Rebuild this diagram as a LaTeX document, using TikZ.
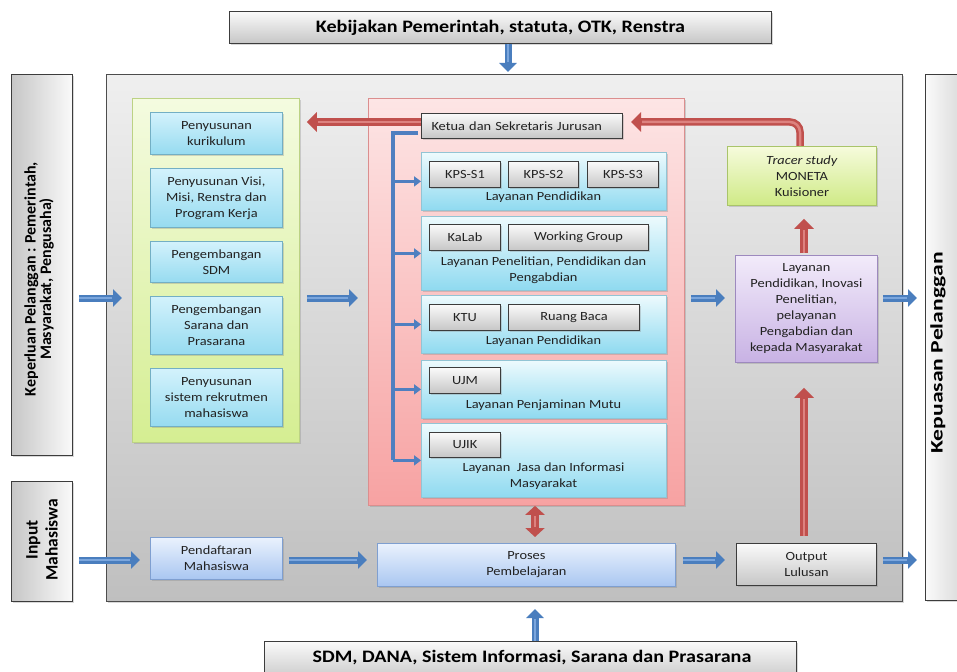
\documentclass[tikz,border=0pt]{standalone}
\usepackage{fontspec}
\setmainfont{Carlito}[FakeStretch=1.15]
\newfontfamily\sidefont{Carlito}
\newfontfamily\sidefontwide{Carlito}[FakeStretch=1.35]
\usetikzlibrary{arrows.meta,shadows,calc}
\definecolor{txt}{HTML}{222222}
\definecolor{grayT}{HTML}{FAFAFA}
\definecolor{grayB}{HTML}{C6C6C6}
\definecolor{grayD}{HTML}{3C3C3C}
\definecolor{panT}{HTML}{EFEFEF}
\definecolor{panB}{HTML}{BFBFBF}
\definecolor{panD}{HTML}{4D4D4D}
\definecolor{grnT}{HTML}{F4FBE0}
\definecolor{grnB}{HTML}{D5EE92}
\definecolor{grnD}{HTML}{BCD284}
\definecolor{cyT}{HTML}{D3F2FC}
\definecolor{cyB}{HTML}{96DBF0}
\definecolor{cyD}{HTML}{73AFC4}
\definecolor{redT}{HTML}{FDE5E5}
\definecolor{redB}{HTML}{F7A2A2}
\definecolor{redD}{HTML}{DB8E8E}
\definecolor{cy2T}{HTML}{EDFAFD}
\definecolor{cy2B}{HTML}{8FDAF0}
\definecolor{cy2D}{HTML}{92C4D4}
\definecolor{trT}{HTML}{F6FBDC}
\definecolor{trB}{HTML}{CFEA86}
\definecolor{trD}{HTML}{A9C46A}
\definecolor{puT}{HTML}{F2EBFA}
\definecolor{puB}{HTML}{C8B2E4}
\definecolor{puD}{HTML}{9D89BE}
\definecolor{lbT}{HTML}{EAF2FD}
\definecolor{lbB}{HTML}{A9C6F1}
\definecolor{lbD}{HTML}{7F9FD0}
\definecolor{bArr}{HTML}{4A7EBE}
\definecolor{bHl}{HTML}{7BA6DD}
\definecolor{bLine}{HTML}{4F7FC0}
\definecolor{rArr}{HTML}{C0504D}
\definecolor{rHl}{HTML}{DD827F}
\begin{document}
\begin{tikzpicture}[x=1pt,y=-1pt,
  shd/.style={drop shadow={shadow xshift=1.5pt,shadow yshift=-1.5pt,opacity=0.3}},
  bx/.style={draw, inner sep=0pt, anchor=north west, align=center, text=txt,
    font=\fontsize{12.5}{16}\selectfont},
  graybox/.style={bx, shd, draw=grayD, line width=1pt, top color=grayT, bottom color=grayB},
  barbox/.style={graybox, font=\fontsize{17.5}{20}\selectfont\bfseries, text=black},
  sidebox/.style={bx, shd, draw=grayD, line width=1pt, left color=grayB, right color=grayT},
  sidebox2/.style={bx, shd, draw=grayD, line width=1pt, left color=grayT, right color=grayB},
  sidetext/.style={rotate=90, align=center, text=black, inner sep=0pt,
    font=\sidefont\bfseries\fontsize{16}{15.5}\selectfont},
  panel/.style={bx, shd, draw=panD, line width=1pt, top color=panT, bottom color=panB},
  grnpanel/.style={bx, shd, draw=grnD, line width=0.8pt, top color=grnT, bottom color=grnB},
  cybox/.style={bx, shd, draw=cyD, line width=0.8pt, top color=cyT, bottom color=cyB},
  redpanel/.style={bx, shd, draw=redD, line width=0.8pt, top color=redT, bottom color=redB},
  cy2box/.style={bx, shd, draw=cy2D, line width=0.8pt, top color=cy2T, bottom color=cy2B},
  trbox/.style={bx, shd, draw=trD, line width=0.8pt, top color=trT, bottom color=trB},
  pubox/.style={bx, shd, draw=puD, line width=0.8pt, top color=puT, bottom color=puB},
  lbbox/.style={bx, shd, draw=lbD, line width=0.8pt, top color=lbT, bottom color=lbB},
  lab/.style={align=center, inner sep=0pt, text=txt, font=\fontsize{12.5}{16}\selectfont},
  barrow/.style={draw=bArr, line width=7pt, -{Triangle[width=17pt,length=9pt]},
    postaction={draw=bHl, line width=2.5pt, arrows=-, shorten >=10pt}},
  rarrow/.style={draw=rArr, line width=7.5pt, -{Triangle[width=19pt,length=10pt]},
    postaction={draw=rHl, line width=2.5pt, arrows=-, shorten >=11pt}},
  rdarrow/.style={draw=rArr, line width=7.5pt, {Triangle[width=19pt,length=9pt]}-{Triangle[width=19pt,length=9pt]},
    postaction={draw=rHl, line width=2.5pt, arrows=-, shorten >=10pt, shorten <=10pt}},
  bline/.style={draw=bLine, line width=4pt, line join=miter},
  bsmall/.style={draw=bLine, line width=3pt, -{Triangle[width=10pt,length=7pt]}}
]
\useasboundingbox (0,0) rectangle (957,671);
\clip (0,0) rectangle (957,671);
\fill[white] (0,0) rectangle (957,671);

% outer bars
\node[barbox, minimum width=542pt, minimum height=32pt] (top) at (229,11) {Kebijakan Pemerintah, statuta, OTK, Renstra};
\node[barbox, minimum width=532pt, minimum height=40pt, anchor=north west] (bot) at (264,641) {};
\node[text=black, inner sep=0pt, font=\fontsize{17.5}{20}\selectfont\bfseries] (bottxt) at (532,658) {SDM, DANA, Sistem Informasi, Sarana dan Prasarana};

\node[sidebox, minimum width=61pt, minimum height=381pt] (kep) at (11,74) {};
\node[sidetext] (keptxt) at (39,279) {Keperluan Pelanggan : Pemerintah,\\Masyarakat, Pengusaha)};
\node[sidebox, minimum width=61pt, minimum height=120pt] (inp) at (11,481) {};
\node[sidetext, font=\sidefont\bfseries\fontsize{17.5}{20}\selectfont] (inptxt) at (42,540) {Input\\Mahasiswa};
\node[sidebox2, minimum width=60pt, minimum height=526pt] (kepu) at (925,74) {};
\node[sidetext, font=\sidefontwide\bfseries\fontsize{17.5}{20}\selectfont] (keputxt) at (938,353) {Kepuasan Pelanggan};

% main panel
\node[panel, minimum width=796pt, minimum height=527pt] (main) at (106,74) {};

% green panel
\node[grnpanel, minimum width=167pt, minimum height=344pt] (green) at (132,98) {};
\node[cybox, minimum width=132pt, minimum height=42pt] (g1) at (150,112) {Penyusunan\\kurikulum};
\node[cybox, minimum width=132pt, minimum height=59pt] (g2) at (150,168) {Penyusunan Visi,\\Misi, Renstra dan\\Program Kerja};
\node[cybox, minimum width=132pt, minimum height=41pt] (g3) at (150,241) {Pengembangan\\SDM};
\node[cybox, minimum width=132pt, minimum height=58pt] (g4) at (150,296) {Pengembangan\\Sarana dan\\Prasarana};
\node[cybox, minimum width=132pt, minimum height=58pt] (g5) at (150,368) {Penyusunan\\sistem rekrutmen\\mahasiswa};

% red panel
\node[redpanel, minimum width=316pt, minimum height=407pt] (red) at (368,98) {};
\node[graybox, minimum height=25pt, text width=181pt, inner xsep=10pt, align=left] (ketua) at (421,113) {Ketua dan Sekretaris Jurusan};

\node[cy2box, minimum width=245pt, minimum height=58pt] (l1) at (421,152) {};
\node[cy2box, minimum width=245pt, minimum height=74pt] (l2) at (421,216) {};
\node[cy2box, minimum width=245pt, minimum height=58pt] (l3) at (421,295) {};
\node[cy2box, minimum width=245pt, minimum height=58pt] (l4) at (421,360) {};
\node[cy2box, minimum width=245pt, minimum height=74pt] (l5) at (421,423) {};

\node[graybox, minimum width=71pt, minimum height=26pt] (s1) at (429,161) {KPS-S1};
\node[graybox, minimum width=70pt, minimum height=26pt] (s2) at (508,161) {KPS-S2};
\node[graybox, minimum width=71pt, minimum height=26pt] (s3) at (587,161) {KPS-S3};
\node[lab] (lab1) at (543.5,197) {Layanan Pendidikan};

\node[graybox, minimum width=71pt, minimum height=26pt] (kalab) at (429,224) {KaLab};
\node[graybox, minimum width=140pt, minimum height=26pt] (wg) at (508,224) {Working Group};
\node[lab] (lab2) at (543.5,270) {Layanan Penelitian, Pendidikan dan\\Pengabdian};

\node[graybox, minimum width=71pt, minimum height=26pt] (ktu) at (429,304) {KTU};
\node[graybox, minimum width=131pt, minimum height=26pt] (rb) at (508,304) {Ruang Baca};
\node[lab] (lab3) at (543.5,341) {Layanan Pendidikan};

\node[graybox, minimum width=71pt, minimum height=26pt] (ujm) at (429,367) {UJM};
\node[lab] (lab4) at (543.5,405) {Layanan Penjaminan Mutu};

\node[graybox, minimum width=71pt, minimum height=25pt] (ujik) at (429,432) {UJIK};
\node[lab] (lab5) at (543.5,476) {Layanan~ Jasa dan Informasi\\Masyarakat};

% right column
\node[trbox, minimum width=149pt, minimum height=59pt] (tracer) at (727,146) {\textit{Tracer study}\\MONETA\\Kuisioner};
\node[pubox, minimum width=142pt, minimum height=107pt] (lay) at (735,255) {Layanan\\Pendidikan, Inovasi\\Penelitian,\\pelayanan\\Pengabdian dan\\kepada Masyarakat};
\node[graybox, minimum width=140pt, minimum height=42pt, draw=grayD] (out) at (736,543) {Output\\Lulusan};

% bottom row
\node[lbbox, minimum width=132pt, minimum height=42pt] (pend) at (150,537) {Pendaftaran\\Mahasiswa};
\node[lbbox, minimum width=298pt, minimum height=43pt] (proses) at (377,543) {Proses\\Pembelajaran};

% helper coordinates
\coordinate (ay) at (0,298);
\coordinate (by) at (0,560);
\coordinate (ry) at (0,122);
\coordinate (xt) at (508,0);
\coordinate (xb) at (535,0);
\coordinate (rx) at (800,0);
\coordinate (rx2) at (804,0);
\coordinate (bx) at (393,133);

% blue arrows
\draw[barrow] (xt |- top.south) -- ($(xt |- main.north)+(0,-2)$);
\draw[barrow] ($(kep.east |- ay)+(6,0)$) -- ($(green.west |- ay)+(-10,0)$);
\draw[barrow] ($(green.east |- ay)+(7,0)$) -- ($(red.west |- ay)+(-10,0)$);
\draw[barrow] ($(red.east |- ay)+(6,0)$) -- ($(lay.west |- ay)+(-10,0)$);
\draw[barrow] ($(lay.east |- ay)+(5,0)$) -- ($(kepu.west |- ay)+(-8,0)$);
\draw[barrow] ($(inp.east |- by)+(6,0)$) -- ($(pend.west |- by)+(-10,0)$);
\draw[barrow] ($(pend.east |- by)+(6,0)$) -- ($(proses.west |- by)+(-10,0)$);
\draw[barrow] ($(proses.east |- by)+(7,0)$) -- ($(out.west |- by)+(-11,0)$);
\draw[barrow] ($(out.east |- by)+(6,0)$) -- ($(kepu.west |- by)+(-8,0)$);
\draw[barrow] (xb |- bot.north) -- ($(xb |- main.south)+(0,7)$);

% blue bracket
\draw[bline] ($(ketua.west |- bx)+(-3,0)$) -- (bx) -- (bx |- l5.west);
\draw[bsmall] (bx |- l1.west) -- (l1.west);
\draw[bsmall] (bx |- l2.west) -- (l2.west);
\draw[bsmall] (bx |- l3.west) -- (l3.west);
\draw[bsmall] (bx |- l4.west) -- (l4.west);
\draw[bsmall] (bx |- l5.west) -- (l5.west);

% red arrows
\draw[rarrow] (ketua.west |- ry) -- ($(green.east |- ry)+(7,0)$);
\draw[rarrow, rounded corners=10pt] (rx |- tracer.north) -- (rx |- ry) -- ($(ketua.east |- ry)+(8,0)$);
\draw[rarrow] ($(rx2 |- lay.north)+(0,-2)$) -- ($(rx2 |- tracer.south)+(0,13)$);
\draw[rarrow] ($(rx2 |- out.north)+(0,-7)$) -- ($(rx2 |- lay.south)+(0,25)$);
\draw[rdarrow] (xb |- red.south) -- ($(xb |- proses.north)+(0,-6)$);
\end{tikzpicture}
\end{document}
